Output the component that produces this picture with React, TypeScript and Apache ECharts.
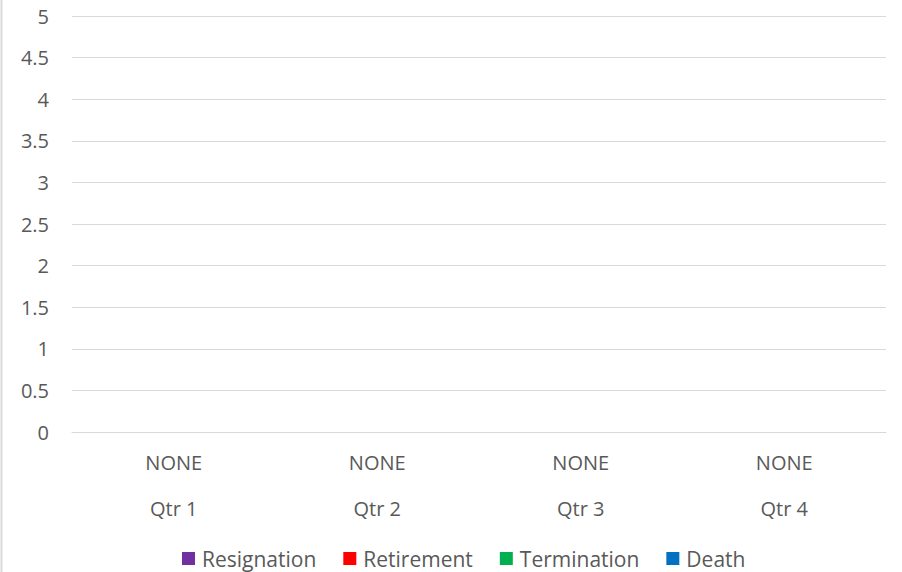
import React, { useEffect, useRef } from "react";
import * as echarts from "echarts";

const quarters = ["Qtr 1", "Qtr 2", "Qtr 3", "Qtr 4"];
const subLabels = ["NONE", "NONE", "NONE", "NONE"];
const seriesNames = ["Resignation", "Retirement", "Termination", "Death"];
const resignation = [0, 0, 0, 0];
const retirement = [0, 0, 0, 0];
const termination = [0, 0, 0, 0];
const death = [0, 0, 0, 0];
const colors = ["#7030A0", "#FF0000", "#00B050", "#0070C0"];

export default function App() {
  const ref = useRef<HTMLDivElement>(null);
  useEffect(() => {
    document.body.style.margin = "0";
    const chart = echarts.init(ref.current!, null, { renderer: "svg" });
    const font = "Open Sans";
    const txt = "#595959";
    const values = [resignation, retirement, termination, death];
    chart.setOption({
      animation: false,
      textStyle: { fontFamily: font },
      grid: { left: 72, right: 16, top: 16, bottom: 140, containLabel: false },
      xAxis: [
        {
          type: "category",
          data: subLabels,
          axisLine: { show: true, lineStyle: { color: "#d9d9d9", width: 1 } },
          axisTick: { show: false },
          axisLabel: { color: txt, fontSize: 20, fontFamily: font, margin: 20 },
        },
        {
          type: "category",
          data: quarters,
          position: "bottom",
          offset: 46,
          axisLine: { show: false },
          axisTick: { show: false },
          axisLabel: { color: txt, fontSize: 20, fontFamily: font, margin: 20 },
        },
      ],
      yAxis: {
        type: "value",
        min: 0,
        max: 5,
        interval: 0.5,
        axisLine: { show: false },
        axisTick: { show: false },
        axisLabel: { color: txt, fontSize: 20, fontFamily: font, margin: 23 },
        splitLine: { lineStyle: { color: "#d9d9d9", width: 1 } },
      },
      legend: {
        top: 548,
        left: 182,
        padding: 0,
        itemWidth: 13,
        itemHeight: 13,
        itemGap: 27,
        icon: "rect",
        textStyle: { color: txt, fontSize: 21, fontFamily: font, padding: [0, 0, 0, 2] },
        data: seriesNames,
      },
      series: seriesNames.map((n, i) => ({
        name: n,
        type: "bar",
        xAxisIndex: 0,
        data: values[i],
        itemStyle: { color: colors[i] },
      })),
      graphic: [
        {
          type: "line",
          shape: { x1: 1.5, y1: 0, x2: 1.5, y2: 572 },
          style: { stroke: "#d9d9d9", lineWidth: 2 },
        },
      ],
    });
    return () => chart.dispose();
  }, []);
  return <div ref={ref} style={{ width: 902, height: 572 }} />;
}
